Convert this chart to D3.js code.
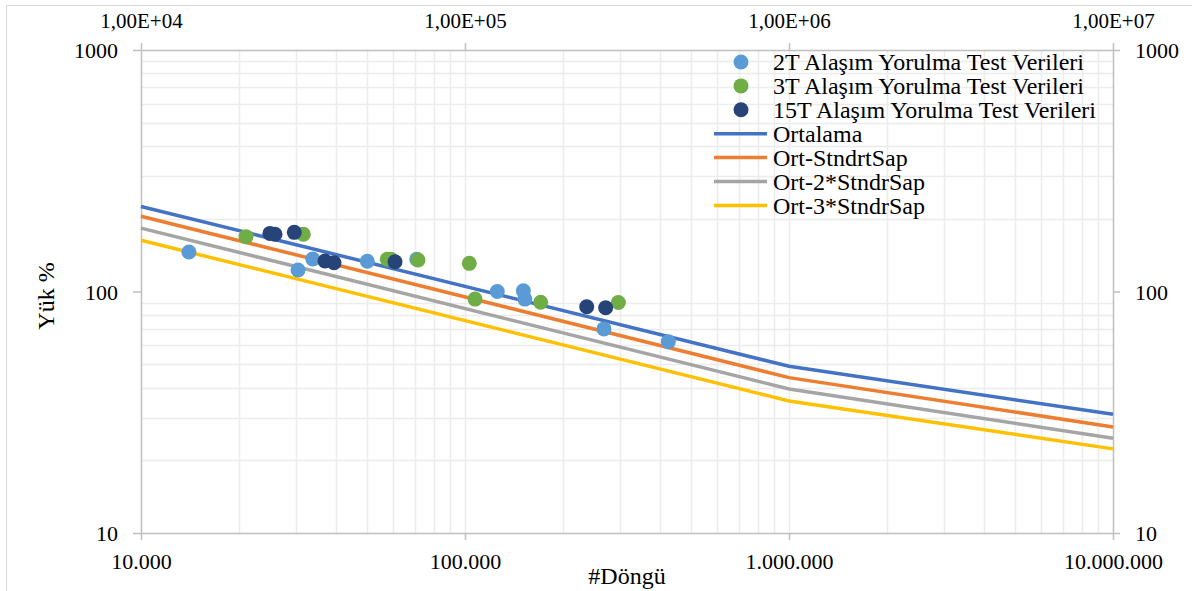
<!DOCTYPE html>
<html>
<head>
<meta charset="utf-8">
<script src="https://cdn.jsdelivr.net/npm/d3@7"></script>
<style>
  html, body { margin: 0; padding: 0; background: #fff; }
  svg { display: block; }
  svg text { font-family: 'Liberation Serif', 'Times New Roman', serif; fill: #000; }
</style>
</head>
<body>
<svg id="chart" width="1192" height="591"></svg>
<script>
// Fatigue test data (cycles vs. load %)
const cycles2T = [14060, 30520, 33900, 49950, 70960, 125800, 151400, 153000, 268500, 424200];
const load2T   = [145.8, 122.7, 136.3, 133.4, 136.0, 100.0, 100.6, 93.0, 70.0, 62.0];

const cycles3T = [21090, 31700, 57540, 59100, 71600, 103100, 107400, 171200, 297400];
const load3T   = [168.7, 172.6, 136.0, 136.0, 135.0, 130.8, 93.0, 90.2, 90.0];

const cycles15T = [25000, 25920, 29720, 36970, 39420, 60810, 237500, 271700];
const load15T   = [174.0, 172.6, 175.8, 133.7, 131.5, 132.8, 86.5, 85.7];

// S-N design curves
const curveCycles = [10000, 1000000, 10000000];
const ortalama    = [225, 49, 31];
const ortSd1      = [205, 44, 27.5];
const ortSd2      = [183, 39.5, 24.7];
const ortSd3      = [163, 35.2, 22.3];

// Axis ticks and labels
const xTicks = [1e4, 1e5, 1e6, 1e7];
const xBottomLabels = ["10.000", "100.000", "1.000.000", "10.000.000"];
const xTopLabels = ["1,00E+04", "1,00E+05", "1,00E+06", "1,00E+07"];
const yTicks = [10, 100, 1000];
const yLabels = ["10", "100", "1000"];

const pointSeries = [
  { name: "2T Alaşım Yorulma Test Verileri", xs: cycles2T, ys: load2T, color: "#5b9bd5" },
  { name: "3T Alaşım Yorulma Test Verileri", xs: cycles3T, ys: load3T, color: "#70ad47" },
  { name: "15T Alaşım Yorulma Test Verileri", xs: cycles15T, ys: load15T, color: "#264478" }
];
const lineSeries = [
  { name: "Ortalama", ys: ortalama, color: "#4472c4" },
  { name: "Ort-StndrtSap", ys: ortSd1, color: "#ed7d31" },
  { name: "Ort-2*StndrSap", ys: ortSd2, color: "#a5a5a5" },
  { name: "Ort-3*StndrSap", ys: ortSd3, color: "#ffc000" }
];

const FONT = "'Liberation Serif', 'Times New Roman', serif";
const svg = d3.select("#chart");
const plotL = 141, plotR = 1113, plotT = 50, plotB = 533;

const x = d3.scaleLog().domain([1e4, 1e7]).range([plotL, plotR]);
const y = d3.scaleLog().domain([10, 1000]).range([plotB, plotT]);

// outer chart frame
svg.append("rect").attr("x", 6.5).attr("y", 5.5).attr("width", 1300).attr("height", 700)
  .attr("fill", "none").attr("stroke", "#d9d9d9").attr("stroke-width", 1);

// grid (every 1..9 per decade)
const grid = svg.append("g");
const xGridVals = [];
for (let d = 1e4; d < 1e7; d *= 10) for (let k = 2; k <= 9; k++) xGridVals.push(d * k);
xGridVals.push(1e5, 1e6);
const yGridVals = [];
for (let d = 10; d < 1000; d *= 10) for (let k = 2; k <= 9; k++) yGridVals.push(d * k);
grid.selectAll(".gx").data(xGridVals).join("line")
  .attr("x1", d => Math.round(x(d)) + 0.5).attr("x2", d => Math.round(x(d)) + 0.5)
  .attr("y1", plotT).attr("y2", plotB).attr("stroke", "#ececec").attr("stroke-width", 1.5);
grid.selectAll(".gy").data(yGridVals).join("line")
  .attr("y1", d => Math.round(y(d)) + 0.5).attr("y2", d => Math.round(y(d)) + 0.5)
  .attr("x1", plotL).attr("x2", plotR).attr("stroke", "#ececec").attr("stroke-width", 1.5);

// axes
const axisColor = "#bfbfbf";
function styleAxis(g, size) {
  g.attr("font-family", null).attr("font-size", null);
  g.select(".domain").attr("stroke", axisColor).attr("stroke-width", 1.5);
  g.selectAll(".tick line").attr("stroke", axisColor).attr("stroke-width", 1.5);
  g.selectAll(".tick text").attr("fill", "#000")
    .style("font-family", FONT).style("font-size", size + "px");
}
const axBottom = svg.append("g").attr("transform", `translate(0,${plotB})`)
  .call(d3.axisBottom(x).tickValues(xTicks).tickSize(7).tickSizeOuter(0)
    .tickFormat((d, i) => xBottomLabels[i]));
styleAxis(axBottom, 22);
axBottom.selectAll(".tick text").attr("dy", "0").attr("y", 36);

const axTop = svg.append("g").attr("transform", `translate(0,${plotT})`)
  .call(d3.axisTop(x).tickValues(xTicks).tickSize(7).tickSizeOuter(0)
    .tickFormat((d, i) => xTopLabels[i]));
styleAxis(axTop, 21);
axTop.selectAll(".tick text").attr("y", -22).attr("dy", "0");

const axLeft = svg.append("g").attr("transform", `translate(${plotL},0)`)
  .call(d3.axisLeft(y).tickValues(yTicks).tickSize(8).tickSizeOuter(0)
    .tickFormat((d, i) => yLabels[i]));
styleAxis(axLeft, 22);
axLeft.selectAll(".tick text").attr("x", -23).attr("dy", "0.35em");

const axRight = svg.append("g").attr("transform", `translate(${plotR},0)`)
  .call(d3.axisRight(y).tickValues(yTicks).tickSize(7).tickSizeOuter(0)
    .tickFormat((d, i) => yLabels[i]));
styleAxis(axRight, 22);
axRight.selectAll(".tick text").attr("x", 22).attr("dy", "0.35em");

// curves
const lineGen = d3.line().x(d => x(d[0])).y(d => y(d[1]));
const curveG = svg.append("g");
lineSeries.forEach(s => {
  curveG.append("path")
    .datum(curveCycles.map((c, i) => [c, s.ys[i]]))
    .attr("d", lineGen).attr("fill", "none")
    .attr("stroke", s.color).attr("stroke-width", 3.5);
});

// test points
const ptG = svg.append("g");
pointSeries.forEach(s => {
  ptG.selectAll(null).data(s.xs.map((c, i) => [c, s.ys[i]])).join("circle")
    .attr("cx", d => x(d[0])).attr("cy", d => y(d[1])).attr("r", 7.5)
    .attr("fill", s.color);
});

// axis titles
svg.append("text").attr("transform", "translate(46,296) rotate(-90)")
  .attr("text-anchor", "middle").attr("dy", "0.35em")
  .style("font-family", FONT).style("font-size", "24px").text("Yük %");
svg.append("text").attr("x", 627).attr("y", 584)
  .attr("text-anchor", "middle")
  .style("font-family", FONT).style("font-size", "24px").text("#Döngü");

// legend
const lg = svg.append("g");
const rowY0 = 62, rowH = 23.9, legendFont = "24px";
pointSeries.forEach((s, i) => {
  const yy = rowY0 + i * rowH;
  lg.append("circle").attr("cx", 741).attr("cy", yy).attr("r", 7.5).attr("fill", s.color);
  lg.append("text").attr("x", 773).attr("y", yy).attr("dy", "0.35em")
    .style("font-family", FONT).style("font-size", legendFont).text(s.name);
});
lineSeries.forEach((s, i) => {
  const yy = rowY0 + (i + 3) * rowH;
  lg.append("line").attr("x1", 714).attr("x2", 767).attr("y1", yy).attr("y2", yy)
    .attr("stroke", s.color).attr("stroke-width", 3.5);
  lg.append("text").attr("x", 773).attr("y", yy).attr("dy", "0.35em")
    .style("font-family", FONT).style("font-size", legendFont).text(s.name);
});
</script>
</body>
</html>
